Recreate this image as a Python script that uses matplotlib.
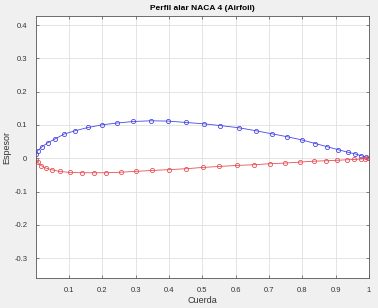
import numpy as np
import matplotlib
matplotlib.use("Agg")
import matplotlib.pyplot as plt

plt.rcParams['font.family'] = ['Liberation Sans', 'DejaVu Sans']

# Extrados (superficie superior)
x_sup = [0.0, 0.006, 0.018, 0.036, 0.059, 0.085, 0.118, 0.157, 0.200, 0.245,
         0.293, 0.345, 0.398, 0.451, 0.504, 0.554, 0.610, 0.661, 0.708, 0.755,
         0.799, 0.839, 0.875, 0.908, 0.937, 0.959, 0.977, 0.990, 0.997, 1.0]
y_sup = [0.012, 0.0225, 0.0336, 0.0465, 0.0585, 0.0726, 0.0825, 0.0924, 0.1005, 0.1059,
         0.1104, 0.1125, 0.1116, 0.1074, 0.1035, 0.0981, 0.0915, 0.0825, 0.0735, 0.0645,
         0.0549, 0.0441, 0.0345, 0.0255, 0.018, 0.0129, 0.0075, 0.0039, 0.0009, 0.0]

# Intrados (superficie inferior)
x_inf = [0.0, 0.006, 0.017, 0.030, 0.048, 0.072, 0.103, 0.138, 0.175, 0.211,
         0.255, 0.301, 0.350, 0.399, 0.450, 0.501, 0.551, 0.603, 0.654, 0.702,
         0.749, 0.794, 0.836, 0.871, 0.905, 0.934, 0.956, 0.975, 0.988, 0.996, 1.0]
y_inf = [-0.0045, -0.012, -0.0225, -0.0294, -0.0345, -0.0396, -0.0426, -0.0435, -0.0435, -0.0435,
         -0.042, -0.0393, -0.0366, -0.0342, -0.0315, -0.0276, -0.0246, -0.0216, -0.0195, -0.0165,
         -0.0144, -0.0114, -0.0087, -0.0075, -0.006, -0.0045, -0.0036, -0.0024, -0.0015, -0.0006, -0.0003]

xticks = [0.1, 0.2, 0.3, 0.4, 0.5, 0.6, 0.7, 0.8, 0.9, 1]
yticks = [-0.3, -0.2, -0.1, 0, 0.1, 0.2, 0.3, 0.4]
xtick_labels = ['0.1', '0.2', '0.3', '0.4', '0.5', '0.6', '0.7', '0.8', '0.9', '1']
ytick_labels = ['-0.3', '-0.2', '-0.1', '0', '0.1', '0.2', '0.3', '0.4']

fig = plt.figure(figsize=(3.78, 3.08), dpi=100, facecolor='#f0f0f0')
ax = fig.add_axes([0.0944, 0.0964, 0.882, 0.852])
ax.set_facecolor('white')

ax.plot(x_sup, y_sup, '-o', color='#4848e6', lw=0.6, ms=3.0, mfc='none', mew=0.6)
ax.plot(x_inf, y_inf, '-o', color='#e85055', lw=0.6, ms=3.0, mfc='none', mew=0.6)

ax.set_xlim(0, 1)
ax.set_ylim(-0.3605, 0.4275)
ax.set_xticks(xticks)
ax.set_xticklabels(xtick_labels)
ax.set_yticks(yticks)
ax.set_yticklabels(ytick_labels)
ax.grid(True, color='#e0e0e0', lw=0.6)
ax.set_axisbelow(True)

for s in ax.spines.values():
    s.set_color('#555555')
    s.set_linewidth(0.6)
ax.tick_params(direction='in', length=2.5, width=0.5, colors='#555555',
               labelsize=5.5, labelcolor='#333333', top=True, right=True, pad=6)

ax.set_title('Perfil alar NACA 4 (Airfoil)', fontsize=6, fontweight='bold', pad=4)
ax.set_xlabel('Cuerda', fontsize=6.5, color='#333333', labelpad=2)
ax.set_ylabel('Espesor', fontsize=6.5, color='#333333', labelpad=2)

fig.savefig('out.png', dpi=100, facecolor=fig.get_facecolor())
